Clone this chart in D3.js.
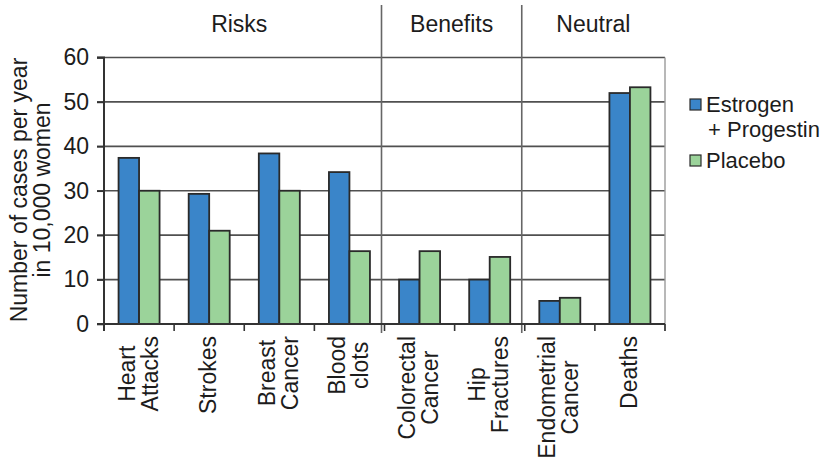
<!DOCTYPE html>
<html>
<head>
<meta charset="utf-8">
<script src="https://cdn.jsdelivr.net/npm/d3@7"></script>
<style>
  html, body { margin: 0; padding: 0; background: #fff; }
  svg { display: block; }
  text { font-family: "Liberation Sans", Arial, sans-serif; fill: #1c1c1c; }
</style>
</head>
<body>
<svg id="chart" width="827" height="458"></svg>
<script>
const categories = [
  ["Heart", "Attacks"], ["Strokes"], ["Breast", "Cancer"], ["Blood", "clots"],
  ["Colorectal", "Cancer"], ["Hip", "Fractures"], ["Endometrial", "Cancer"], ["Deaths"]
];
const seriesNames = ["Estrogen + Progestin", "Placebo"];
const legendLines = [["Estrogen", "+ Progestin"], ["Placebo"]];
const estrogen = [37.4, 29.3, 38.4, 34.2, 10, 10, 5.2, 52];
const placebo  = [30, 21, 30, 16.4, 16.4, 15.1, 5.9, 53.3];
const yTicks = [0, 10, 20, 30, 40, 50, 60];
const groups = [
  { name: "Risks", from: 0, to: 4 },
  { name: "Benefits", from: 4, to: 6 },
  { name: "Neutral", from: 6, to: 8 }
];
const colors = ["#3a85c9", "#9bd39a"];

const FS = "23px";
const svg = d3.select("#chart");
const pLeft = 104, pRight = 665, pTop = 57.5, pBottom = 324;
const idx = d3.range(categories.length);

const x = d3.scaleBand().domain(idx).range([pLeft, pRight]).paddingInner(0).paddingOuter(0);
const xs = d3.scaleBand().domain([0, 1]).range([0, x.bandwidth()]).paddingInner(0).paddingOuter(0.71);
const y = d3.scaleLinear().domain([0, 60]).range([pBottom, pTop]);

// gridlines
svg.append("g").selectAll("line").data(yTicks.filter(t => t > 0)).join("line")
  .attr("x1", pLeft - 7).attr("x2", pRight)
  .attr("y1", d => y(d)).attr("y2", d => y(d))
  .attr("stroke", "#505050").attr("stroke-width", 1.6);

// right border
svg.append("line").attr("x1", pRight).attr("x2", pRight).attr("y1", pTop).attr("y2", pBottom + 7)
  .attr("stroke", "#9a9a9a").attr("stroke-width", 1.4);

// group dividers
const dividerX = groups.slice(1).map(g => x(g.from) - 3);
svg.append("g").selectAll("line").data(dividerX).join("line")
  .attr("x1", d => d).attr("x2", d => d).attr("y1", 5).attr("y2", pBottom + 9)
  .attr("stroke", "#666").attr("stroke-width", 1.6);

// bars
const barData = [];
idx.forEach(i => {
  barData.push({ i, s: 0, v: estrogen[i] });
  barData.push({ i, s: 1, v: placebo[i] });
});
svg.append("g").selectAll("rect").data(barData).join("rect")
  .attr("x", d => x(d.i) + xs(d.s))
  .attr("width", xs.bandwidth())
  .attr("y", d => y(d.v))
  .attr("height", d => y(0) - y(d.v))
  .attr("fill", d => colors[d.s])
  .attr("stroke", "#2a2a2a").attr("stroke-width", 1.8);

// y axis
const yAxis = d3.axisLeft(y).tickValues(yTicks).tickSize(7).tickPadding(8);
const gy = svg.append("g").attr("transform", `translate(${pLeft},0)`).call(yAxis);
gy.select(".domain").attr("stroke", "#333").attr("stroke-width", 2)
  .attr("d", `M-7,${pTop}H0V${pBottom}`);
gy.selectAll(".tick line").attr("stroke", "#333").attr("stroke-width", 1.6);
gy.selectAll(".tick text").style("font-size", FS)
  .style("font-family", "'Liberation Sans', Arial, sans-serif").attr("fill", "#1c1c1c");

// x axis
const xBoundaries = d3.range(categories.length + 1).map(i => pLeft + i * x.step());
svg.append("line").attr("x1", pLeft - 7).attr("x2", pRight).attr("y1", pBottom).attr("y2", pBottom)
  .attr("stroke", "#333").attr("stroke-width", 2);
svg.append("g").selectAll("line").data(xBoundaries).join("line")
  .attr("x1", d => d).attr("x2", d => d).attr("y1", pBottom).attr("y2", pBottom + 7)
  .attr("stroke", "#333").attr("stroke-width", 1.6);
svg.append("line").attr("x1", pLeft).attr("x2", pLeft).attr("y1", pBottom).attr("y2", pBottom + 7)
  .attr("stroke", "#333").attr("stroke-width", 2);

// x labels (rotated, centered lines)
const lineGap = 23, labelTop = 336;
const xl = svg.append("g");
idx.forEach(i => {
  const lines = categories[i];
  const cx = x(i) + x.bandwidth() / 2;
  const g = xl.append("g");
  const texts = lines.map((ln, k) =>
    g.append("text").text(ln).style("font-size", FS).attr("text-anchor", "middle"));
  const maxW = d3.max(texts, t => t.node().getComputedTextLength());
  const cy = labelTop + maxW / 2;
  texts.forEach((t, k) => {
    const bx = cx + 7 + (k - (lines.length - 1) / 2) * lineGap;
    t.attr("transform", `translate(${bx},${cy}) rotate(-90)`);
  });
});

// group headers
groups.forEach((g, k) => {
  const x0 = k === 0 ? pLeft - 7 : x(g.from) - 3;
  const x1 = k === groups.length - 1 ? pRight : x(g.to) - 3;
  svg.append("text").text(g.name).attr("x", (x0 + x1) / 2).attr("y", 32)
    .attr("text-anchor", "middle").style("font-size", FS);
});

// y title
const yt = svg.append("text").attr("text-anchor", "middle").style("font-size", FS)
  .attr("transform", "translate(0,190) rotate(-90)");
yt.append("tspan").attr("x", 0).attr("y", 27).text("Number of cases per year");
yt.append("tspan").attr("x", 0).attr("y", 50).text("in 10,000 women");

// legend
const lg = svg.append("g");
const legendY = [99, 155];
seriesNames.forEach((s, k) => {
  lg.append("rect").attr("x", 690).attr("y", legendY[k]).attr("width", 11).attr("height", 11)
    .attr("fill", colors[k]).attr("stroke", "#2a2a2a").attr("stroke-width", 1.2);
  legendLines[k].forEach((ln, j) => {
    lg.append("text").text(ln).style("font-size", "22px")
      .attr("x", j === 0 ? 706 : 708).attr("y", legendY[k] + 13 + j * 25);
  });
});
</script>
</body>
</html>
